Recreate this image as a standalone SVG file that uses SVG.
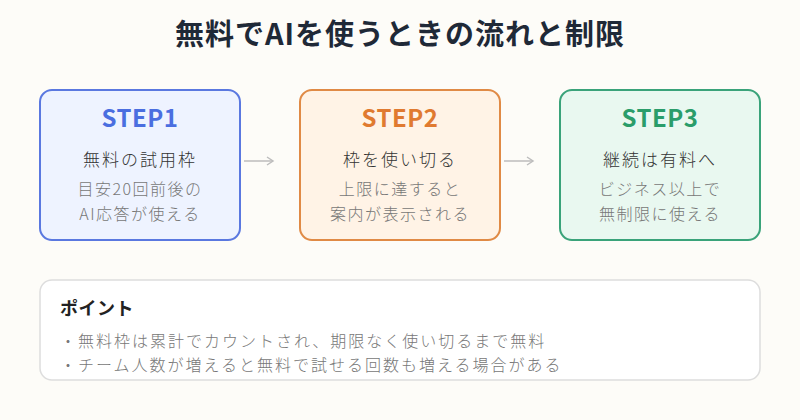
<svg xmlns="http://www.w3.org/2000/svg" width="800" height="420" viewBox="0 0 800 420">
<style>
text{font-family:"Noto Sans CJK JP","Noto Sans",sans-serif}
.title{font-size:29px;font-weight:bold;fill:#1f2937;text-anchor:middle;letter-spacing:1px}
.step{font-size:24px;font-weight:bold;text-anchor:middle;letter-spacing:0.5px}
.sub{font-size:17px;fill:#333;text-anchor:middle;letter-spacing:2px;font-weight:300}
.desc{font-size:16px;fill:#777;text-anchor:middle;letter-spacing:1.5px;font-weight:300}
.pt{font-size:18px;font-weight:bold;fill:#222;letter-spacing:0.5px}
.bl{font-size:16px;fill:#777;letter-spacing:2px;font-weight:300}
.conn{stroke:#bdbdbd;stroke-width:1.5;fill:none}
</style>
<defs>
<marker id="ah" markerWidth="10" markerHeight="10" refX="8" refY="5" orient="auto" markerUnits="userSpaceOnUse">
<path d="M2,1 L8,5 L2,9" fill="none" stroke="#bdbdbd" stroke-width="1.5"/>
</marker>
</defs>
<rect width="800" height="420" fill="#fdfcf8"/>
<text class="title" x="400" y="45">無料でAIを使うときの流れと制限</text>
<g id="step1">
<rect x="40" y="90" width="200" height="150" rx="12" fill="#eef3ff" stroke="#5a78e0" stroke-width="2"/>
<text class="step" x="140" y="127" fill="#4a6ee0">STEP1</text>
<text class="sub" x="140" y="166">無料の試用枠</text>
<text class="desc" x="140" y="195">目安20回前後の</text>
<text class="desc" x="140" y="220">AI応答が使える</text>
</g>
<g id="step2">
<rect x="300" y="90" width="200" height="150" rx="12" fill="#fff3e6" stroke="#e08a45" stroke-width="2"/>
<text class="step" x="400" y="127" fill="#e07a30">STEP2</text>
<text class="sub" x="400" y="166">枠を使い切る</text>
<text class="desc" x="400" y="195">上限に達すると</text>
<text class="desc" x="400" y="220">案内が表示される</text>
</g>
<g id="step3">
<rect x="560" y="90" width="200" height="150" rx="12" fill="#e9f8f0" stroke="#3aa37a" stroke-width="2"/>
<text class="step" x="660" y="127" fill="#2a9d6a">STEP3</text>
<text class="sub" x="660" y="166">継続は有料へ</text>
<text class="desc" x="660" y="195">ビジネス以上で</text>
<text class="desc" x="660" y="220">無制限に使える</text>
</g>
<g id="connectors">
<line class="conn" x1="244" y1="161" x2="273" y2="161" marker-end="url(#ah)"/>
<line class="conn" x1="504" y1="161" x2="533" y2="161" marker-end="url(#ah)"/>
</g>
<g id="points">
<rect x="40" y="280" width="720" height="100" rx="12" fill="#ffffff" stroke="#dddddd" stroke-width="1.5"/>
<text class="pt" x="60" y="315">ポイント</text>
<text class="bl" x="60" y="347">・無料枠は累計でカウントされ、期限なく使い切るまで無料</text>
<text class="bl" x="60" y="371">・チーム人数が増えると無料で試せる回数も増える場合がある</text>
</g>
</svg>
